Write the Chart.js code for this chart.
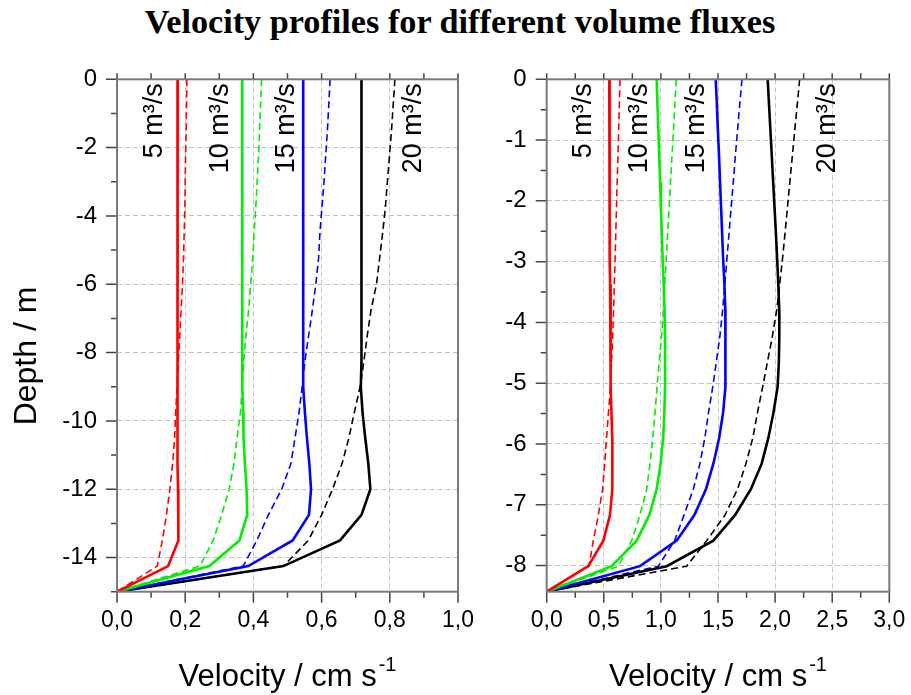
<!DOCTYPE html>
<html>
<head>
<meta charset="utf-8">
<script src="https://cdn.jsdelivr.net/npm/chart.js@4.4.1/dist/chart.umd.min.js"></script>
<style>
  body { margin: 0; background: #fff; width: 911px; height: 695px; position: relative; overflow: hidden; }
  #title { position: absolute; left: 0; top: 0; width: 920px; text-align: center; }
  #title span { font-family: "Liberation Serif", serif; font-weight: bold; font-size: 26px; white-space: nowrap; line-height: 1; position: relative; top: 4px; }
  canvas { position: absolute; top: 0; }
  #left { left: 0; }
  #right { left: 480px; }
</style>
</head>
<body>
<div id="title"><span id="titleText">Velocity profiles for different volume fluxes</span></div>
<canvas id="left" width="480" height="695"></canvas>
<canvas id="right" width="431" height="695"></canvas>
<script>
// depth grids (m)
const leftDepth = [0, -0.75, -1.5, -2.25, -3, -3.75, -4.5, -5.25, -6, -6.75, -7.5, -8.25, -9, -9.75, -10.5, -11.25, -12, -12.75, -13.5, -14.25, -15]
const rightDepth = [0, -0.42, -0.84, -1.26, -1.69, -2.11, -2.53, -2.95, -3.37, -3.79, -4.22, -4.64, -5.06, -5.48, -5.9, -6.32, -6.74, -7.17, -7.59, -8.01, -8.43]

// left panel, solid lines
const red5L = [0.178, 0.178, 0.178, 0.178, 0.178, 0.178, 0.177, 0.177, 0.177, 0.177, 0.177, 0.177, 0.177, 0.177, 0.177, 0.178, 0.179, 0.18, 0.18, 0.15, 0]
const green10L = [0.367, 0.367, 0.367, 0.367, 0.367, 0.367, 0.367, 0.367, 0.367, 0.367, 0.368, 0.368, 0.369, 0.37, 0.371, 0.375, 0.38, 0.382, 0.359, 0.271, 0]
const blue15L = [0.546, 0.546, 0.546, 0.546, 0.546, 0.546, 0.546, 0.546, 0.546, 0.546, 0.546, 0.546, 0.547, 0.551, 0.557, 0.564, 0.569, 0.563, 0.515, 0.385, 0]
const black20L = [0.717, 0.717, 0.717, 0.717, 0.717, 0.717, 0.717, 0.717, 0.717, 0.717, 0.717, 0.716, 0.715, 0.72, 0.728, 0.737, 0.743, 0.717, 0.654, 0.488, 0]
// left panel, dashed lines
const red5Ld = [0.205, 0.204, 0.203, 0.201, 0.2, 0.199, 0.197, 0.195, 0.192, 0.188, 0.184, 0.18, 0.176, 0.172, 0.169, 0.163, 0.155, 0.145, 0.133, 0.118, 0]
const green10Ld = [0.424, 0.421, 0.418, 0.415, 0.411, 0.407, 0.402, 0.398, 0.392, 0.386, 0.378, 0.372, 0.367, 0.362, 0.352, 0.343, 0.329, 0.307, 0.282, 0.243, 0]
const blue15Ld = [0.625, 0.621, 0.617, 0.612, 0.607, 0.601, 0.595, 0.591, 0.583, 0.573, 0.562, 0.551, 0.543, 0.534, 0.522, 0.51, 0.483, 0.444, 0.41, 0.37, 0]
const black20Ld = [0.815, 0.81, 0.805, 0.799, 0.793, 0.787, 0.779, 0.77, 0.761, 0.745, 0.734, 0.724, 0.713, 0.696, 0.68, 0.66, 0.632, 0.6, 0.561, 0.488, 0]

// right panel, solid lines
const red5R = [0.548, 0.549, 0.55, 0.55, 0.551, 0.552, 0.553, 0.554, 0.555, 0.557, 0.559, 0.561, 0.563, 0.567, 0.574, 0.578, 0.572, 0.554, 0.496, 0.364, 0]
const green10R = [0.963, 0.97, 0.978, 0.985, 0.993, 1.0, 1.008, 1.015, 1.024, 1.032, 1.036, 1.037, 1.036, 1.03, 1.02, 0.998, 0.963, 0.899, 0.788, 0.569, 0]
const blue15R = [1.48, 1.49, 1.499, 1.509, 1.518, 1.527, 1.536, 1.545, 1.556, 1.564, 1.567, 1.566, 1.562, 1.545, 1.51, 1.46, 1.395, 1.293, 1.138, 0.817, 0]
const black20R = [1.935, 1.947, 1.959, 1.971, 1.983, 1.995, 2.007, 2.018, 2.028, 2.036, 2.037, 2.033, 2.022, 1.986, 1.941, 1.883, 1.789, 1.649, 1.459, 1.051, 0]
// right panel, dashed lines
const red5Rd = [0.642, 0.636, 0.63, 0.624, 0.617, 0.611, 0.605, 0.599, 0.592, 0.586, 0.578, 0.568, 0.558, 0.541, 0.524, 0.508, 0.49, 0.452, 0.408, 0.37, 0]
const green10Rd = [1.135, 1.122, 1.11, 1.097, 1.084, 1.072, 1.059, 1.047, 1.034, 1.022, 1.006, 0.986, 0.966, 0.949, 0.929, 0.905, 0.876, 0.817, 0.744, 0.627, 0]
const blue15Rd = [1.71, 1.69, 1.671, 1.652, 1.634, 1.615, 1.597, 1.578, 1.56, 1.541, 1.517, 1.486, 1.454, 1.417, 1.385, 1.342, 1.284, 1.202, 1.12, 0.977, 0]
const black20Rd = [2.215, 2.194, 2.172, 2.151, 2.129, 2.108, 2.087, 2.065, 2.04, 2.015, 1.977, 1.934, 1.891, 1.846, 1.805, 1.745, 1.672, 1.561, 1.401, 1.226, 0]

const fluxLabels = ['5 m³/s', '10 m³/s', '15 m³/s', '20 m³/s']
const leftLabelX = [0.11, 0.303, 0.498, 0.869]
const rightLabelX = [0.32, 0.814, 1.313, 2.455]

const colors = ['#ff0000', '#00ee00', '#0000ff', '#000000']

// fit the title width
const tt = document.getElementById('titleText')
tt.style.fontSize = (26 * 631 / tt.getBoundingClientRect().width) + 'px'

Chart.defaults.font.family = '"Liberation Sans", Arial, sans-serif'
Chart.defaults.color = '#000'

function isStep(v, step) {
    return Math.abs(v / step - Math.round(v / step)) < 1e-6
}

function series(depth, vals, color, dashed) {
    return {
        data: vals.map((v, i) => ({x: v, y: depth[i]})),
        borderColor: color,
        borderWidth: dashed ? 1.6 : 2.6,
        borderDash: dashed ? [7, 4] : [],
        showLine: true,
        pointRadius: 0,
        fill: false
    }
}

// tick positions on whole multiples of the step
function stepTicks(min, max, step) {
    return s => {
        const t = []
        for (let k = Math.ceil(min / step - 1e-9); k * step <= max + 1e-9; k++) {
            t.push({value: +(k * step).toFixed(4)})
        }
        s.ticks = t
    }
}

const framePlugin = {
    id: 'frame',
    afterDraw(chart, args, o) {
        const {ctx, chartArea: a, scales: {x, y}} = chart
        ctx.save()
        // tick marks
        ctx.strokeStyle = '#444'
        ctx.lineWidth = 1.5
        ctx.beginPath()
        x.ticks.forEach(t => {
            const px = x.getPixelForValue(t.value)
            const len = isStep(t.value, o.xMajor) ? 11 : 6
            ctx.moveTo(px, a.bottom); ctx.lineTo(px, a.bottom + len)
            ctx.moveTo(px, a.top); ctx.lineTo(px, a.top - 6)
        })
        y.ticks.forEach(t => {
            const py = y.getPixelForValue(t.value)
            const len = isStep(t.value, o.yMajor) ? 11 : 6
            ctx.moveTo(a.left, py); ctx.lineTo(a.left - len, py)
        })
        ctx.stroke()
        // frame
        ctx.strokeStyle = '#7a7a7a'
        ctx.lineWidth = 2
        ctx.strokeRect(a.left, a.top, a.right - a.left, a.bottom - a.top)

        // flux labels, rotated
        ctx.fillStyle = '#000'
        ctx.font = '27px "Liberation Sans", Arial, sans-serif'
        ctx.textAlign = 'right'
        ctx.textBaseline = 'middle'
        fluxLabels.forEach((txt, i) => {
            ctx.save()
            ctx.translate(x.getPixelForValue(o.labelX[i]), a.top + 4)
            ctx.rotate(-Math.PI / 2)
            ctx.fillText(txt, 0, 0)
            ctx.restore()
        })

        // x title with superscript
        const main = 'Velocity / cm s'
        const sup = '-1'
        ctx.textAlign = 'left'
        ctx.textBaseline = 'alphabetic'
        ctx.font = '31px "Liberation Sans", Arial, sans-serif'
        const w1 = ctx.measureText(main).width
        ctx.font = '20px "Liberation Sans", Arial, sans-serif'
        const w2 = ctx.measureText(sup).width
        const x0 = (a.left + a.right) / 2 - (w1 + w2 + 2) / 2
        ctx.font = '31px "Liberation Sans", Arial, sans-serif'
        ctx.fillText(main, x0, 686)
        ctx.font = '20px "Liberation Sans", Arial, sans-serif'
        ctx.fillText(sup, x0 + w1 + 2, 671)

        // y title
        if (o.yTitle) {
            ctx.save()
            ctx.font = '32px "Liberation Sans", Arial, sans-serif'
            ctx.textAlign = 'center'
            ctx.textBaseline = 'middle'
            ctx.translate(27, 356)
            ctx.rotate(-Math.PI / 2)
            ctx.fillText(o.yTitle, 0, 0)
            ctx.restore()
        }
        ctx.restore()
    }
}

function makeChart(id, cfg) {
    const gridColor = (step, min, max) => c => {
        const v = c.tick.value
        return isStep(v, step) && v > min + 1e-6 && v < max - 1e-6 ? '#c4c4c4' : 'rgba(0,0,0,0)'
    }
    return new Chart(document.getElementById(id), {
        type: 'scatter',
        data: {datasets: cfg.datasets},
        plugins: [framePlugin],
        options: {
            responsive: false,
            animation: false,
            layout: {padding: {left: 0, top: 79.3, right: cfg.padRight, bottom: 0}},
            plugins: {
                legend: {display: false},
                tooltip: {enabled: false},
                frame: {
                    xMajor: cfg.xMajor, yMajor: cfg.yMajor,
                    labelX: cfg.labelX, yTitle: cfg.yTitle
                }
            },
            scales: {
                x: {
                    type: 'linear', min: cfg.xMin, max: cfg.xMax,
                    afterBuildTicks: stepTicks(cfg.xMin, cfg.xMax, cfg.xStep),
                    afterFit: s => { s.height = 103.3; s.paddingLeft = 0; s.paddingRight = 0 },
                    border: {display: false, dash: [5, 3]},
                    grid: {drawTicks: false, lineWidth: 1, color: gridColor(cfg.xMajor, cfg.xMin, cfg.xMax)},
                    ticks: {
                        autoSkip: false, maxRotation: 0, padding: 15,
                        font: {size: 23},
                        callback: v => isStep(v, cfg.xMajor) ? v.toFixed(1).replace('.', ',') : ''
                    }
                },
                y: {
                    type: 'linear', min: cfg.yMin, max: 0,
                    afterBuildTicks: stepTicks(cfg.yMin, 0, cfg.yStep),
                    afterFit: s => { s.width = cfg.yWidth; s.paddingTop = 0; s.paddingBottom = 0 },
                    border: {display: false, dash: [5, 3]},
                    grid: {drawTicks: false, lineWidth: 1, color: gridColor(cfg.yMajor, cfg.yMin, 0)},
                    ticks: {
                        autoSkip: false, padding: 20,
                        font: {size: 24},
                        callback: v => isStep(v, cfg.yMajor) ? String(v) : ''
                    }
                }
            }
        }
    })
}

makeChart('left', {
    datasets: [
        series(leftDepth, red5L, colors[0], false),
        series(leftDepth, green10L, colors[1], false),
        series(leftDepth, blue15L, colors[2], false),
        series(leftDepth, black20L, colors[3], false),
        series(leftDepth, red5Ld, colors[0], true),
        series(leftDepth, green10Ld, colors[1], true),
        series(leftDepth, blue15Ld, colors[2], true),
        series(leftDepth, black20Ld, colors[3], true)
    ],
    xMin: 0, xMax: 1, xStep: 0.1, xMajor: 0.2,
    yMin: -15, yStep: 1, yMajor: 2,
    yWidth: 117, padRight: 22,
    labelX: leftLabelX, yTitle: 'Depth / m'
})

makeChart('right', {
    datasets: [
        series(rightDepth, red5R, colors[0], false),
        series(rightDepth, green10R, colors[1], false),
        series(rightDepth, blue15R, colors[2], false),
        series(rightDepth, black20R, colors[3], false),
        series(rightDepth, red5Rd, colors[0], true),
        series(rightDepth, green10Rd, colors[1], true),
        series(rightDepth, blue15Rd, colors[2], true),
        series(rightDepth, black20Rd, colors[3], true)
    ],
    xMin: 0, xMax: 3, xStep: 0.25, xMajor: 0.5,
    yMin: -8.43, yStep: 0.5, yMajor: 1,
    yWidth: 66.7, padRight: 21.7,
    labelX: rightLabelX, yTitle: null
})
</script>
</body>
</html>
